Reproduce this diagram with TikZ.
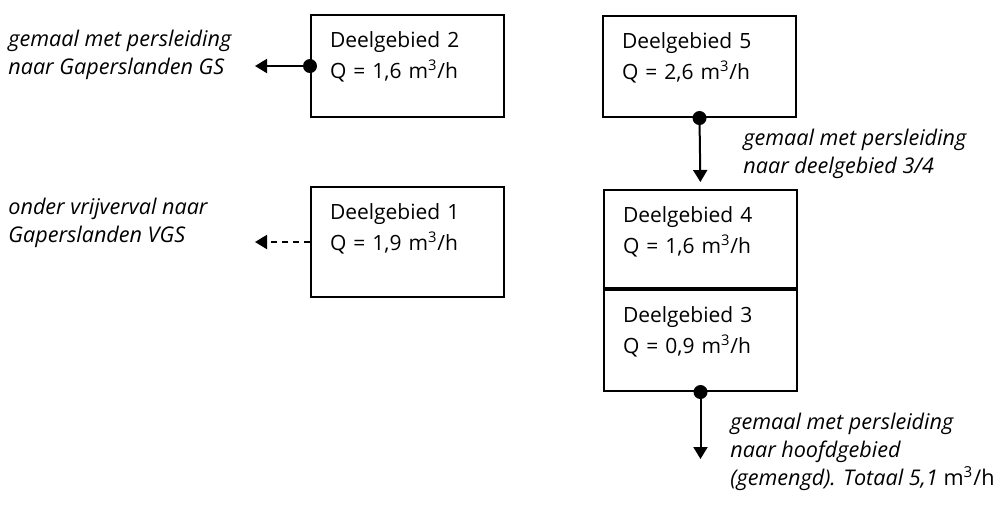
\documentclass[tikz,border=0pt]{standalone}
\usepackage{fontspec}
\setmainfont{Open Sans}
\usetikzlibrary{arrows.meta,positioning}
\begin{document}
\begin{tikzpicture}[x=0.5pt,y=-0.5pt,
  deelbox/.style={draw,line width=1pt,anchor=north west,align=left,text width=77.5pt,inner xsep=9.5pt,inner ysep=0pt,text height=16pt,font=\fontsize{10.5}{15.5}\selectfont},
  uitleg/.style={anchor=base west,align=left,inner sep=0pt,font=\fontsize{10.8}{14}\selectfont\itshape},
  pomp/.style={circle,fill,inner sep=0pt,minimum size=7pt},
  leiding/.style={line width=1pt,-{Triangle[width=7pt,length=6pt]}}]
\useasboundingbox (0,0) rectangle (998,511);
\node[deelbox,text depth=35pt] (d2) at (310,14) {Deelgebied 2\\Q = 1,6 m\textsuperscript{3}/h};
\node[deelbox,text depth=39pt] (d1) at (310,186) {Deelgebied 1\\Q = 1,9 m\textsuperscript{3}/h};
\node[deelbox,text depth=34.5pt] (d5) at (602,15) {Deelgebied 5\\Q = 2,6 m\textsuperscript{3}/h};
\node[deelbox,text depth=33pt] (d4) at (603,189) {Deelgebied 4\\Q = 1,6 m\textsuperscript{3}/h};
\node[deelbox,text depth=34.5pt] (d3) at (d4.south west) {Deelgebied 3\\Q = 0,9 m\textsuperscript{3}/h};
\node[pomp] (p2) at (d2.west) {};
\node[pomp] (p5) at (d5.south) {};
\node[pomp] (p3) at (d3.south) {};
\coordinate[left=27.5pt of d2.west] (u2);
\coordinate[left=27.5pt of d1.west] (u1);
\coordinate[below=33.5pt of d3.south] (u3);
% labels: anchor is the baseline of the last line
\node[uitleg] (lab2) at (8,74) {gemaal met persleiding\\naar Gaperslanden GS};
\node[uitleg] (lab1) at (8,242) {onder vrijverval naar\\Gaperslanden VGS};
\node[uitleg] (lab5) at (743,173) {gemaal met persleiding\\naar deelgebied 3/4};
\node[uitleg] (lab3) at (730,485) {gemaal met persleiding\\naar hoofdgebied\\(gemengd). Totaal 5,1 {\upshape m\textsuperscript{3}/h}};
\draw[leiding] (p2.center) -- (u2);
\draw[leiding,dash pattern=on 3pt off 2.5pt] (d1.west) -- (u1);
\draw[leiding,shorten >=3.5pt] (p5.center) -- (d4.north);
\draw[leiding] (p3.center) -- (u3);
\end{tikzpicture}
\end{document}
